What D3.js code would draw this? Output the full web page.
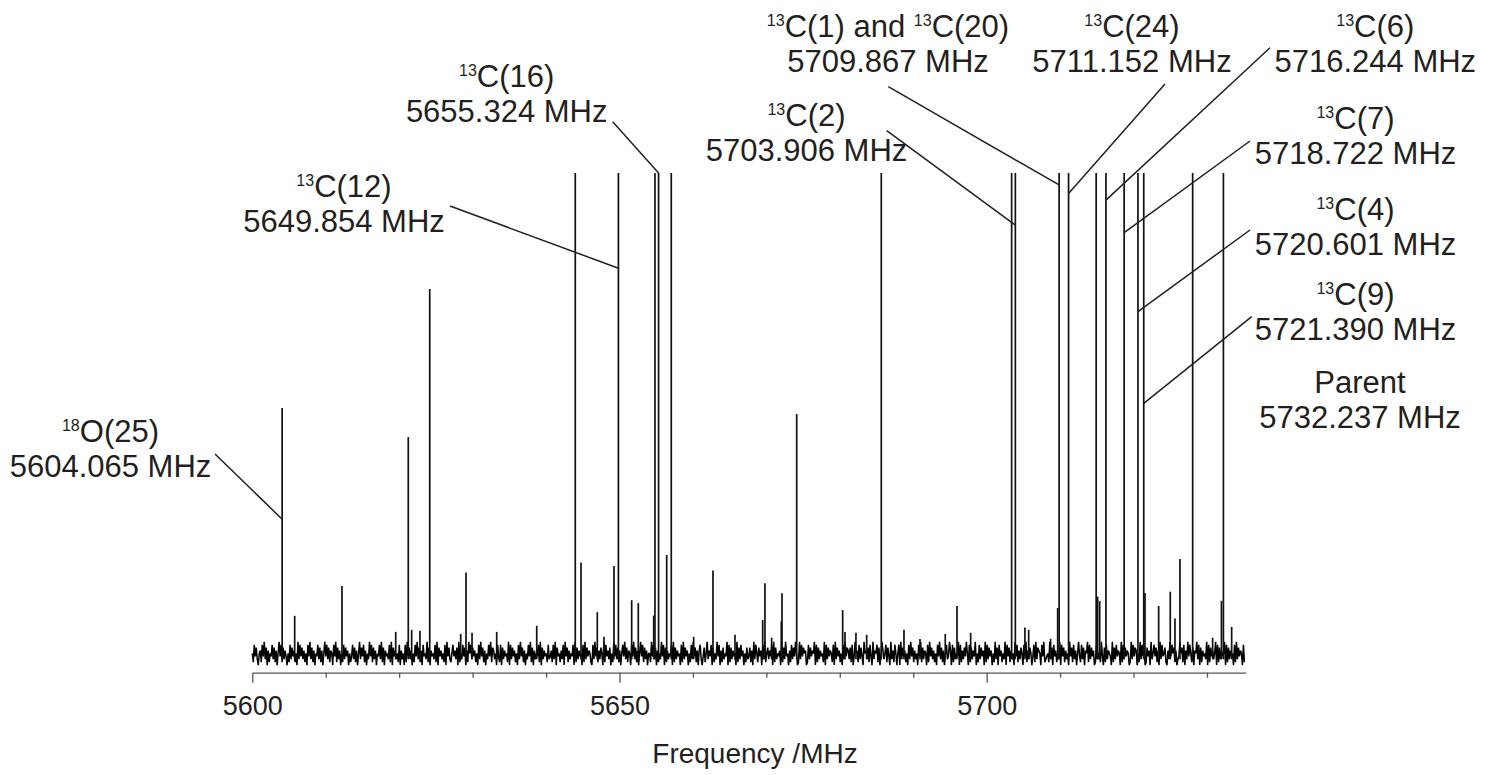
<!DOCTYPE html>
<html>
<head>
<meta charset="utf-8">
<script src="https://cdn.jsdelivr.net/npm/d3@7"></script>
<style>
  body { margin: 0; background: #fff; }
  text { font-family: "Liberation Sans", Arial, Helvetica, sans-serif; fill: #231f20; }
</style>
</head>
<body>
<div id="chart"></div>
<script>
// Axis
const freqRange = [5600, 5735.3];
const majorTicks = [5600, 5650, 5700];
const minorTicks = [5610, 5620, 5630, 5640, 5660, 5670, 5680, 5690, 5710, 5720, 5730];

// Noise floor, one digit per sample, sampled evenly over the axis range
const noiseDigits = [
    "52847315628493716254837261594827364152837462519384",
    "73625184937261548372615948372651849273615283746152",
    "48372615937482615394827361548392716453829174635281",
    "63518294736152849372618453927164538291746352819473",
    "25846371925384716295837462518394726153849276351842",
    "81736452918374625183947261538492716354829173645283",
    "46283917452638194726354819273645182937465218394726",
    "37519284637152948372615849372651849372615948273615",
    "52948371625394817263548192736451829374615283947261",
    "68314725936481725394816273549182736451927384615273",
    "47261938527461839257364819273546182739451628374951",
    "29384756128374659182736452918374652819374625183947",
    "63728149562837419563728419365827149635827419362851",
    "58193746251839472635184927365182947362518493726158",
    "34961827354918263749518273649152837461928374615293",
    "71846253918472635194826375184926375148293765184923",
    "45293718462539184726351947283615942837165928374612",
    "86352941728365419273846519283746512938476152938471",
    "27461935847261938457216394857261349572816394852716",
    "59381726453918274635918273645918273645182937465182"
].join("");

// Lines (MHz) and intensity (arb. units, 170 = off scale)
const peakFreq = [
    5643.98, 5649.854, 5654.83, 5655.324, 5657.05, 5685.65, 5703.40, 5703.906,
    5709.867, 5711.152, 5714.91, 5716.244, 5718.722, 5720.601, 5721.390, 5728.05, 5732.237,
    5604.065, 5621.24, 5624.16, 5674.13,
    5605.77, 5612.21, 5619.53, 5621.70, 5622.83, 5628.38, 5629.10, 5629.92, 5633.28,
    5638.73, 5644.76, 5646.98, 5647.89, 5649.25, 5651.66, 5652.56, 5654.66, 5656.43,
    5660.10, 5662.73, 5665.73, 5669.50, 5669.81, 5670.72, 5672.03, 5672.13, 5680.39,
    5680.71, 5682.20, 5683.66, 5688.74, 5690.92, 5694.36, 5695.96, 5697.82, 5705.21,
    5705.72, 5708.71, 5709.67, 5715.11, 5715.39, 5721.56, 5723.42, 5725.00, 5725.64,
    5726.32, 5730.77, 5731.97, 5733.36
];
const peakInt = [
    170, 170, 170, 170, 170, 170, 170, 170,
    170, 170, 170, 170, 170, 170, 170, 170, 170,
    89.3, 79.3, 130.2, 87.2,
    17.9, 28.2, 12.4, 13.1, 12.8, 11.7, 32.8, 12.1, 12.4,
    14.5, 36.2, 19.2, 10.7, 35.0, 23.3, 22.3, 18.0, 38.8,
    10.7, 33.5, 11.4, 16.5, 29.1, 10.4, 16.0, 25.7, 19.9,
    12.4, 12.1, 11.4, 13.1, 10.0, 11.7, 21.3, 12.1, 13.9,
    13.1, 10.0, 20.6, 24.5, 23.0, 25.8, 21.3, 26.2, 17.0,
    37.4, 10.4, 23.1, 14.1
];

// Assignments
const labelIso = [["18"], ["13"], ["13"], ["13"], ["13", "13"], ["13"], ["13"], ["13"], ["13"], ["13"], [""]];
const labelName = [["O(25)"], ["C(12)"], ["C(16)"], ["C(2)"], ["C(1) and ", "C(20)"], ["C(24)"], ["C(6)"], ["C(7)"], ["C(4)"], ["C(9)"], ["Parent"]];
const labelFreq = [5604.065, 5649.854, 5655.324, 5703.906, 5709.867, 5711.152, 5716.244, 5718.722, 5720.601, 5721.390, 5732.237];
const leaderInt = [51.1, 137.3, 170, 152.1, 165.9, 163.0, 160.7, 149.5, 122.4, 90.9, null];

// label placement (px): text centre, first baseline, leader start
const labelLayout = [
    { cx: 110.5, by: 442, sx: 215, sy: 454 },
    { cx: 344, by: 197, sx: 450, sy: 206 },
    { cx: 506.7, by: 87, sx: 612.7, sy: 121.7 },
    { cx: 806.5, by: 126, sx: 886.7, sy: 130.7 },
    { cx: 888, by: 37, sx: 888.3, sy: 86.7 },
    { cx: 1132, by: 37, sx: 1165, sy: 84 },
    { cx: 1375.3, by: 37, sx: 1270, sy: 47.7 },
    { cx: 1355.5, by: 129, sx: 1250, sy: 141 },
    { cx: 1355.5, by: 220, sx: 1250, sy: 230 },
    { cx: 1355.5, by: 305, sx: 1251.7, sy: 316.7 },
    { cx: 1360, by: 393, sx: null, sy: null }
];

function init() {
    const width = 1503;
    const height = 775;

    const svg = d3.select("#chart")
        .append("svg")
        .attr("width", width)
        .attr("height", height);

    const x = d3.scaleLinear().domain(freqRange).range([252.3, 1245.9]);
    const y = d3.scaleLinear().domain([0, 170]).range([668, 173]);

    // noise floor
    const noise = noiseDigits.split("").map(Number);
    const step = (freqRange[1] - 0.2 - freqRange[0]) / (noise.length - 1);
    const line = d3.line()
        .x((d, i) => x(freqRange[0] + i * step))
        .y(d => y(d));

    svg.append("path")
        .datum(noise)
        .attr("d", line)
        .attr("fill", "none")
        .attr("stroke", "#000")
        .attr("stroke-width", 1.5);

    // transitions
    const peaks = peakFreq.map((f, i) => ({ f: f, v: peakInt[i] }));
    svg.append("g")
        .selectAll("line")
        .data(peaks)
        .join("line")
        .attr("x1", d => x(d.f))
        .attr("x2", d => x(d.f))
        .attr("y1", y(3))
        .attr("y2", d => y(d.v))
        .attr("stroke", "#111")
        .attr("stroke-width", 1.7);

    // axis
    const axisY = 672.7;
    const gMinor = svg.append("g")
        .attr("transform", `translate(0,${axisY})`)
        .call(d3.axisBottom(x).tickValues(minorTicks).tickSize(5).tickSizeOuter(0).tickFormat(""));
    const gMajor = svg.append("g")
        .attr("transform", `translate(0,${axisY})`)
        .call(d3.axisBottom(x).tickValues(majorTicks).tickSize(10).tickSizeOuter(0)
            .tickPadding(13).tickFormat(d3.format("d")));
    gMajor.select(".domain").remove();
    [gMinor, gMajor].forEach(g => {
        g.selectAll("path, line").attr("stroke", "#555").attr("stroke-width", 1.3);
    });
    gMajor.selectAll("text")
        .attr("font-size", 27)
        .attr("fill", "#231f20")
        .style("font-family", "'Liberation Sans', Arial, sans-serif");

    svg.append("text")
        .attr("x", 755)
        .attr("y", 763)
        .attr("text-anchor", "middle")
        .attr("font-size", 28)
        .text("Frequency /MHz");

    // assignment labels
    const lineGap = 35;
    labelFreq.forEach((f, i) => {
        const L = labelLayout[i];
        const t1 = svg.append("text")
            .attr("x", L.cx)
            .attr("y", L.by)
            .attr("text-anchor", "middle")
            .attr("font-size", 31);
        labelIso[i].forEach((iso, j) => {
            if (iso) {
                t1.append("tspan").attr("font-size", 16).attr("dy", -11).text(iso);
                t1.append("tspan").attr("dy", 11).text(labelName[i][j]);
            } else {
                t1.append("tspan").text(labelName[i][j]);
            }
        });
        svg.append("text")
            .attr("x", L.cx)
            .attr("y", L.by + lineGap)
            .attr("text-anchor", "middle")
            .attr("font-size", 31)
            .text(d3.format(".3f")(f) + " MHz");

        if (leaderInt[i] !== null) {
            svg.append("line")
                .attr("x1", L.sx)
                .attr("y1", L.sy)
                .attr("x2", x(f))
                .attr("y2", y(leaderInt[i]))
                .attr("stroke", "#231f20")
                .attr("stroke-width", 1.5);
        }
    });
}

window.onload = init;
</script>
</body>
</html>
